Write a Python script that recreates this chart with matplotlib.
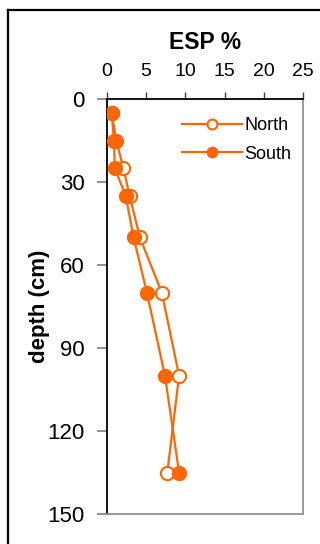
import matplotlib
matplotlib.use("Agg")
import matplotlib.pyplot as plt
from matplotlib.lines import Line2D

depth_north = [5, 15, 25, 35, 50, 70, 100, 135]
esp_north = [0.6, 1.2, 2.1, 2.9, 4.2, 7.0, 9.2, 7.7]
depth_south = [5, 15, 25, 35, 50, 70, 100, 135]
esp_south = [0.6, 0.9, 1.0, 2.4, 3.4, 5.1, 7.4, 9.2]
xticks = [0, 5, 10, 15, 20, 25]
yticks = [0, 30, 60, 90, 120, 150]

plt.rcParams['font.family'] = ['Liberation Sans', 'DejaVu Sans']
orange = '#FF6600'

fig = plt.figure(figsize=(3.2, 5.44), dpi=100)
ax = fig.add_axes([0.334, 0.0551, 0.613, 0.7629])

ax.plot(esp_north, depth_north, color=orange, lw=1.6, marker='o', ms=9.5,
        mfc='white', mec=orange, mew=1.5, label='North', zorder=3)
ax.plot(esp_south, depth_south, color=orange, lw=1.6, marker='o', ms=10,
        mfc=orange, mec=orange, mew=1.0, label='South', zorder=4)

ax.set_xlim(0, 25)
ax.set_ylim(150, 0)
ax.set_xticks(xticks)
ax.set_yticks(yticks)
ax.xaxis.tick_top()
ax.xaxis.set_label_position('top')
ax.tick_params(axis='x', direction='out', length=5, width=1, colors='#404040',
               labelsize=14, labelcolor='black', pad=9)
ax.tick_params(axis='y', direction='out', length=7, width=1.2, colors='#808080',
               labelsize=16, labelcolor='black', pad=9)
for lab in ax.get_xticklabels():
    lab.set_family(['Liberation Sans Narrow', 'Liberation Sans', 'DejaVu Sans'])

ax.spines['top'].set_color('black')
ax.spines['left'].set_color('black')
ax.spines['right'].set_color('#909090')
ax.spines['bottom'].set_color('#909090')
for s in ax.spines.values():
    s.set_linewidth(1.3)

ax.set_xlabel('ESP %', fontsize=16.5, fontweight='bold', labelpad=10)
ax.set_ylabel('depth (cm)', fontsize=16, fontweight='bold', labelpad=-2)

leg = ax.legend(loc='upper right', bbox_to_anchor=(1.0, 0.985), frameon=False,
                fontsize=13, handlelength=3.3, handletextpad=0.15,
                labelspacing=0.65, borderaxespad=0.25, markerscale=0.75)

# outer frame
fig.add_artist(Line2D([8/320, 8/320], [0, 1 - 10/544], transform=fig.transFigure,
                      color='black', lw=1.6))
fig.add_artist(Line2D([8/320, 1], [1 - 10/544, 1 - 10/544], transform=fig.transFigure,
                      color='black', lw=1.6))

fig.savefig('out.png', dpi=100)
